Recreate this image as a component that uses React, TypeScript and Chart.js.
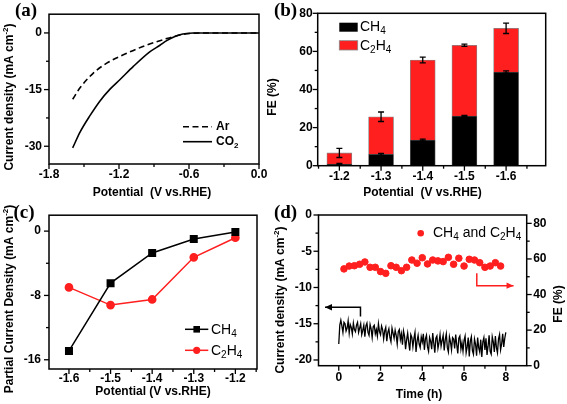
import React, { useEffect, useRef } from 'react';
import { Chart, registerables } from 'chart.js';
Chart.register(...registerables);

const FONT = "'Liberation Sans', Arial, Helvetica, sans-serif";
const SERIF = "'Liberation Serif', 'Times New Roman', serif";
const RED = '#ff1f1f';

// ---------- Panel (a): LSV ----------
const A_AR_V = [-1.597, -1.534, -1.42, -1.305, -1.134, -0.963, -0.791, -0.72, -0.649, -0.577, -0.506, -0.3, 0];
const A_AR_J = [-17.56, -14.53, -10.62, -8.01, -5.4, -3.21, -1.49, -0.86, -0.34, -0.1, 0, 0, 0];
const A_CO2_V = [-1.597, -1.534, -1.449, -1.363, -1.277, -1.191, -1.077, -0.934, -0.849, -0.791, -0.735, -0.677, -0.62, -0.563, -0.506, -0.3, 0];
const A_CO2_J = [-30.44, -26.27, -21.91, -18.0, -14.87, -12.34, -8.87, -4.96, -3.26, -2.04, -1.12, -0.47, -0.16, -0.03, 0, 0, 0];
const A_X_TICKS = [-1.8, -1.2, -0.6, 0];
const A_X_MINOR = [-1.5, -0.9, -0.3];
const A_Y_TICKS = [0, -15, -30];
const A_Y_MINOR = [-7.5, -22.5];

// ---------- Panel (b): FE bars ----------
const B_POT = [-1.2, -1.3, -1.4, -1.5, -1.6];
const B_CH4 = [0.9, 6.0, 13.5, 26.1, 49.2];
const B_C2H4 = [5.8, 19.7, 42.0, 37.1, 22.9];
const B_CH4_ERR = [0.3, 0.5, 0.5, 0.3, 0.6];
const B_TOTAL_ERR = [2.4, 2.5, 1.5, 0.6, 2.7];
const B_X_MINOR = [-1.15, -1.25, -1.35, -1.45, -1.55, -1.65];
const B_Y_TICKS = [0, 20, 40, 60, 80];
const B_Y_MINOR = [10, 30, 50, 70];

// ---------- Panel (c): partial current density ----------
const C_POT = [-1.6, -1.5, -1.4, -1.3, -1.2];
const C_CH4 = [-14.9, -6.47, -2.72, -0.99, -0.12];
const C_C2H4 = [-7.0, -9.2, -8.5, -3.26, -0.82];
const C_X_MINOR = [-1.55, -1.45, -1.35, -1.25, -1.15];
const C_Y_TICKS = [0, -8, -16];
const C_Y_MINOR = [-4, -12];

// ---------- Panel (d): stability ----------
const D_TIME = [
  0, 0.05, 0.1, 0.15, 0.2, 0.25, 0.3, 0.35, 0.4, 0.45, 0.5, 0.55, 0.6, 0.65, 0.7, 0.75, 0.8, 0.85, 0.9, 0.95,
  1, 1.05, 1.1, 1.15, 1.2, 1.25, 1.3, 1.35, 1.4, 1.45, 1.5, 1.55, 1.6, 1.65, 1.7, 1.75, 1.8, 1.85, 1.9, 1.95,
  2, 2.05, 2.1, 2.15, 2.2, 2.25, 2.3, 2.35, 2.4, 2.45, 2.5, 2.55, 2.6, 2.65, 2.7, 2.75, 2.8, 2.85, 2.9, 2.95,
  3, 3.05, 3.1, 3.15, 3.2, 3.25, 3.3, 3.35, 3.4, 3.45, 3.5, 3.55, 3.6, 3.65, 3.7, 3.75, 3.8, 3.85, 3.9, 3.95,
  4, 4.05, 4.1, 4.15, 4.2, 4.25, 4.3, 4.35, 4.4, 4.45, 4.5, 4.55, 4.6, 4.65, 4.7, 4.75, 4.8, 4.85, 4.9, 4.95,
  5, 5.05, 5.1, 5.15, 5.2, 5.25, 5.3, 5.35, 5.4, 5.45, 5.5, 5.55, 5.6, 5.65, 5.7, 5.75, 5.8, 5.85, 5.9, 5.95,
  6, 6.05, 6.1, 6.15, 6.2, 6.25, 6.3, 6.35, 6.4, 6.45, 6.5, 6.55, 6.6, 6.65, 6.7, 6.75, 6.8, 6.85, 6.9, 6.95,
  7, 7.05, 7.1, 7.15, 7.2, 7.25, 7.3, 7.35, 7.4, 7.45, 7.5, 7.55, 7.6, 7.65, 7.7, 7.75, 7.8, 7.85, 7.9, 7.95,
  8,
];
const D_J = [
  -17.8, -15.2, -14.5, -15.3, -16.2, -14.8, -15.0, -16.0, -15.6, -14.6, -16.3, -15.1, -15.5, -16.4, -14.9, -15.8, -16.1, -15.2, -14.8, -16.2,
  -15.6, -15.0, -16.5, -15.9, -15.2, -16.8, -15.3, -14.9, -16.2, -16.6, -15.1, -15.7, -16.9, -15.4, -15.2, -16.4, -15.8, -16.7, -15.0, -16.1,
  -16.5, -15.3, -15.8, -17.1, -16.0, -15.5, -17.4, -16.2, -15.7, -16.9, -17.5, -15.6, -16.3, -17.0, -15.9, -16.6, -17.8, -16.1, -15.8, -17.2,
  -16.4, -17.9, -16.0, -16.7, -18.5, -17.2, -16.3, -17.6, -18.7, -16.5, -16.9, -18.2, -17.0, -16.2, -18.9, -17.4, -16.6, -17.8, -18.3, -16.8,
  -17.5, -16.4, -18.6, -17.1, -16.6, -18.2, -18.8, -16.9, -17.4, -18.5, -16.3, -17.7, -19.0, -17.0, -16.7, -18.4, -17.6, -16.5, -18.1, -17.3,
  -16.6, -18.7, -17.2, -16.4, -18.3, -18.9, -16.8, -17.5, -18.6, -16.9, -17.1, -18.4, -16.5, -17.9, -19.1, -17.0, -16.7, -18.5, -17.6, -18.8,
  -17.3, -16.7, -19.0, -18.2, -16.9, -19.5, -17.4, -16.8, -18.7, -19.2, -17.1, -17.8, -19.4, -16.9, -18.3, -18.9, -17.2, -19.6, -17.5, -16.9,
  -18.6, -17.0, -19.3, -18.1, -16.6, -18.8, -19.2, -16.8, -17.5, -18.9, -16.7, -18.3, -19.0, -17.1, -16.5, -18.6, -17.8, -16.4, -18.2, -17.0,
  -16.2,
];
const D_FE_T = [0.25, 0.5, 0.75, 1, 1.25, 1.5, 1.75, 2, 2.25, 2.5, 2.75, 3, 3.25, 3.5, 3.75, 4, 4.25, 4.5, 4.75, 5, 5.25, 5.5, 5.75, 6, 6.25, 6.5, 6.75, 7, 7.25, 7.5, 7.75];
const D_FE = [54.4, 56.0, 56.2, 57.0, 58.3, 55.3, 55.3, 52.9, 51.9, 56.2, 55.3, 53.4, 55.3, 59.4, 57.6, 60.7, 57.2, 59.4, 58.9, 58.5, 60.9, 57.0, 60.4, 56.0, 59.8, 59.4, 57.9, 55.3, 56.0, 57.9, 56.0];
const D_X_TICKS = [0, 2, 4, 6, 8];
const D_X_MINOR = [1, 3, 5, 7];
const D_Y_TICKS = [0, -5, -10, -15, -20];
const D_Y_MINOR = [-2.5, -7.5, -12.5, -17.5];
const D_Y1_TICKS = [0, 20, 40, 60, 80];
const D_Y1_MINOR = [10, 30, 50, 70];
const D_ARROW_J_T = [1.04, 1.04, -0.66];
const D_ARROW_J_V = [-14.0, -12.73, -12.73];
const D_ARROW_FE_T = [6.61, 6.61, 8.37];
const D_ARROW_FE_V = [51.9, 45.0, 45.0];

// ---------- helpers ----------
type RichOpts = { size: number; bold?: boolean; family?: string; align?: 'left' | 'center' | 'right'; rot?: number; color?: string };

function drawRich(ctx: CanvasRenderingContext2D, str: string, x: number, y: number, o: RichOpts) {
  const parts = str.split(/(_\{[^}]*\}|\^\{[^}]*\})/).filter((p) => p.length);
  const segs = parts.map((p) =>
    p.startsWith('_{') ? { t: p.slice(2, -1), k: 'sub' } : p.startsWith('^{') ? { t: p.slice(2, -1), k: 'sup' } : { t: p, k: '' }
  );
  const fam = o.family || FONT;
  const wt = o.bold ? 'bold ' : '';
  const fontFor = (k: string) => `${wt}${k ? Math.round(o.size * 0.7) : o.size}px ${fam}`;
  ctx.save();
  let total = 0;
  const widths = segs.map((s) => {
    ctx.font = fontFor(s.k);
    const m = ctx.measureText(s.t).width;
    total += m;
    return m;
  });
  ctx.translate(x, y);
  if (o.rot) ctx.rotate(o.rot);
  let cx = o.align === 'left' ? 0 : o.align === 'right' ? -total : -total / 2;
  ctx.fillStyle = o.color || '#000';
  ctx.textBaseline = 'middle';
  ctx.textAlign = 'left';
  segs.forEach((s, i) => {
    ctx.font = fontFor(s.k);
    const dy = s.k === 'sub' ? o.size * 0.3 : s.k === 'sup' ? -o.size * 0.35 : 0;
    ctx.fillText(s.t, cx, dy);
    cx += widths[i];
  });
  ctx.restore();
}

type TickSpec = { scale: string; side: 'left' | 'right' | 'bottom'; majors: number[]; minors: number[] };
type TextSpec = { t: string; x: number; y: number } & RichOpts;

function decor(ox: number, oy: number, ticks: TickSpec[], texts: TextSpec[], extra?: (chart: any, ctx: CanvasRenderingContext2D) => void) {
  return {
    id: 'decor',
    afterDraw(chart: any) {
      const ctx: CanvasRenderingContext2D = chart.ctx;
      const a = chart.chartArea;
      ctx.save();
      if (extra) extra(chart, ctx);
      ctx.strokeStyle = '#000';
      ctx.lineWidth = 1.5;
      ctx.strokeRect(a.left, a.top, a.right - a.left, a.bottom - a.top);
      ctx.lineWidth = 1.3;
      ticks.forEach((t) => {
        const s = chart.scales[t.scale];
        const draw = (v: number, len: number) => {
          const p = s.getPixelForValue(v);
          ctx.beginPath();
          if (t.side === 'bottom') {
            ctx.moveTo(p, a.bottom);
            ctx.lineTo(p, a.bottom + len);
          } else if (t.side === 'left') {
            ctx.moveTo(a.left, p);
            ctx.lineTo(a.left - len, p);
          } else {
            ctx.moveTo(a.right, p);
            ctx.lineTo(a.right + len, p);
          }
          ctx.stroke();
        };
        t.majors.forEach((v) => draw(v, 5));
        t.minors.forEach((v) => draw(v, 3));
      });
      texts.forEach((tx) => drawRich(ctx, tx.t, tx.x - ox, tx.y - oy, tx));
      ctx.restore();
    },
  };
}

const tickFont = { family: FONT, size: 12, weight: 'bold' as const };

function linAxis(min: number, max: number, majors: number[], fmt: (v: number) => string, padding: number, fit: { w?: number; h?: number }) {
  return {
    type: 'linear' as const,
    min,
    max,
    offset: false,
    afterBuildTicks: (s: any) => {
      s.ticks = majors.map((v) => ({ value: v }));
    },
    ticks: { font: tickFont, color: '#000', padding, autoSkip: false, maxRotation: 0, minRotation: 0, callback: (v: any) => fmt(Number(v)) },
    grid: { display: false, drawTicks: false },
    border: { display: false },
    title: { display: false },
    afterFit: (s: any) => {
      if (fit.w !== undefined) s.width = fit.w;
      if (fit.h !== undefined) s.height = fit.h;
    },
  };
}

const zip = (xs: number[], ys: number[]) => xs.map((x, i) => ({ x, y: ys[i] }));
const f1 = (v: number) => v.toFixed(1);
const fi = (v: number) => String(v);

function arrow(ctx: CanvasRenderingContext2D, pts: number[][], color: string) {
  ctx.save();
  ctx.strokeStyle = color;
  ctx.fillStyle = color;
  ctx.lineWidth = 1.5;
  ctx.beginPath();
  ctx.moveTo(pts[0][0], pts[0][1]);
  for (let i = 1; i < pts.length; i++) ctx.lineTo(pts[i][0], pts[i][1]);
  ctx.stroke();
  const [x1, y1] = pts[pts.length - 2];
  const [x2, y2] = pts[pts.length - 1];
  const ang = Math.atan2(y2 - y1, x2 - x1);
  const L = 7, W = 3.2;
  ctx.beginPath();
  ctx.moveTo(x2, y2);
  ctx.lineTo(x2 - L * Math.cos(ang) + W * Math.sin(ang), y2 - L * Math.sin(ang) - W * Math.cos(ang));
  ctx.lineTo(x2 - L * Math.cos(ang) - W * Math.sin(ang), y2 - L * Math.sin(ang) + W * Math.cos(ang));
  ctx.closePath();
  ctx.fill();
  ctx.restore();
}

const baseOpts = (padding: any) => ({
  responsive: false,
  animation: false as const,
  events: [] as any[],
  layout: { padding },
  plugins: { legend: { display: false }, tooltip: { enabled: false } },
});

// ---------- chart builders ----------
const PANELS = [
  {
    left: 0, top: 0, width: 283, height: 202,
    make: () => ({
      type: 'line',
      data: {
        datasets: [
          { data: zip(A_AR_V, A_AR_J), borderColor: '#000', borderWidth: 1.6, borderDash: [6, 3.5], pointRadius: 0, cubicInterpolationMode: 'monotone', fill: false },
          { data: zip(A_CO2_V, A_CO2_J), borderColor: '#000', borderWidth: 1.6, pointRadius: 0, cubicInterpolationMode: 'monotone', fill: false },
        ],
      },
      options: {
        ...baseOpts({ left: 0, top: 12, right: 24, bottom: 0 }),
        scales: {
          x: linAxis(-1.8, 0, A_X_TICKS, f1, 3, { h: 38 }),
          y: linAxis(-34.7, 4.96, A_Y_TICKS, fi, 7, { w: 49 }),
        },
      },
      plugins: [
        decor(0, 0,
          [
            { scale: 'x', side: 'bottom', majors: A_X_TICKS, minors: A_X_MINOR },
            { scale: 'y', side: 'left', majors: A_Y_TICKS, minors: A_Y_MINOR },
          ],
          [
            { t: '(a)', x: 26, y: 11, size: 19, bold: true, family: SERIF },
            { t: 'Current density (mA cm^{-2})', x: 10, y: 97, size: 12, bold: true, rot: -Math.PI / 2 },
            { t: 'Potential  (V vs.RHE)', x: 152, y: 193, size: 12, bold: true },
            { t: 'Ar', x: 216, y: 127, size: 12, bold: true, align: 'left' },
            { t: 'CO_{2}', x: 216, y: 142, size: 12, bold: true, align: 'left' },
          ],
          (chart, ctx) => {
            ctx.save();
            ctx.strokeStyle = '#000';
            ctx.lineWidth = 1.6;
            ctx.setLineDash([6, 3.5]);
            ctx.beginPath(); ctx.moveTo(183, 126.7); ctx.lineTo(212, 126.7); ctx.stroke();
            ctx.setLineDash([]);
            ctx.beginPath(); ctx.moveTo(183, 141.7); ctx.lineTo(212, 141.7); ctx.stroke();
            ctx.restore();
          }
        ),
      ],
    }),
  },
  {
    left: 262, top: 0, width: 305, height: 202,
    make: () => ({
      type: 'bar',
      data: {
        datasets: [
          { data: zip(B_POT, B_CH4), backgroundColor: '#000', borderColor: '#555', borderWidth: 0.8, stack: 's', barThickness: 25 },
          { data: zip(B_POT, B_C2H4), backgroundColor: RED, borderColor: '#888', borderWidth: 0.8, stack: 's', barThickness: 25 },
        ],
      },
      options: {
        ...baseOpts({ left: 0, top: 13.3, right: 21.3, bottom: 0 }),
        scales: {
          x: { ...linAxis(-1.695, -1.148, B_POT, f1, 3.4, { h: 36.3 }), reverse: true },
          y: { ...linAxis(0, 80, B_Y_TICKS, fi, 5, { w: 55.7 }), stacked: true },
        },
      },
      plugins: [
        decor(262, 0,
          [
            { scale: 'x', side: 'bottom', majors: B_POT, minors: B_X_MINOR },
            { scale: 'y', side: 'left', majors: B_Y_TICKS, minors: B_Y_MINOR },
          ],
          [
            { t: '(b)', x: 285.5, y: 11, size: 19, bold: true, family: SERIF },
            { t: 'FE (%)', x: 273, y: 97, size: 12, bold: true, rot: -Math.PI / 2 },
            { t: 'Potential  (V vs.RHE)', x: 422.5, y: 193, size: 12, bold: true },
            { t: 'CH_{4}', x: 360, y: 27, size: 14, align: 'left' },
            { t: 'C_{2}H_{4}', x: 360, y: 46, size: 14, align: 'left' },
          ],
          (chart, ctx) => {
            const xs = chart.scales.x, ys = chart.scales.y;
            ctx.save();
            ctx.strokeStyle = '#000';
            ctx.lineWidth = 1.3;
            const eb = (px: number, v: number, e: number) => {
              const y1 = ys.getPixelForValue(v - e), y2 = ys.getPixelForValue(v + e);
              ctx.beginPath();
              ctx.moveTo(px, y1); ctx.lineTo(px, y2);
              ctx.moveTo(px - 3, y1); ctx.lineTo(px + 3, y1);
              ctx.moveTo(px - 3, y2); ctx.lineTo(px + 3, y2);
              ctx.stroke();
            };
            B_POT.forEach((p, i) => {
              const px = xs.getPixelForValue(p);
              eb(px, B_CH4[i] + B_C2H4[i], B_TOTAL_ERR[i]);
              eb(px, B_CH4[i], B_CH4_ERR[i]);
            });
            const ox = 262;
            ctx.fillStyle = '#000';
            ctx.fillRect(339.3 - ox, 22.7, 18.4, 9);
            ctx.fillStyle = RED;
            ctx.fillRect(339.3 - ox, 40.7, 18.4, 9.3);
            ctx.strokeStyle = '#888';
            ctx.lineWidth = 0.8;
            ctx.strokeRect(339.3 - ox, 40.7, 18.4, 9.3);
            ctx.restore();
          }
        ),
      ],
    }),
  },
  {
    left: 0, top: 200, width: 283, height: 204,
    make: () => ({
      type: 'line',
      data: {
        datasets: [
          { data: zip(C_POT, C_CH4), borderColor: '#000', backgroundColor: '#000', borderWidth: 1.5, pointStyle: 'rect', pointRadius: 4.6, tension: 0 },
          { data: zip(C_POT, C_C2H4), borderColor: RED, backgroundColor: RED, borderWidth: 1.5, pointStyle: 'circle', pointRadius: 3.6, tension: 0 },
        ],
      },
      options: {
        ...baseOpts({ left: 0, top: 14, right: 26, bottom: 0 }),
        scales: {
          x: linAxis(-1.648, -1.148, C_POT, f1, 2, { h: 35 }),
          y: linAxis(-17.15, 1.98, C_Y_TICKS, fi, 8, { w: 49 }),
        },
      },
      plugins: [
        decor(0, 200,
          [
            { scale: 'x', side: 'bottom', majors: C_POT, minors: C_X_MINOR },
            { scale: 'y', side: 'left', majors: C_Y_TICKS, minors: C_Y_MINOR },
          ],
          [
            { t: '(c)', x: 24, y: 213, size: 19, bold: true, family: SERIF },
            { t: 'Partial Current Density (mA cm^{-2})', x: 10, y: 299, size: 12, bold: true, rot: -Math.PI / 2 },
            { t: 'Potential (V vs.RHE)', x: 153, y: 392, size: 12, bold: true },
            { t: 'CH_{4}', x: 211, y: 330, size: 14, align: 'left' },
            { t: 'C_{2}H_{4}', x: 211, y: 351, size: 14, align: 'left' },
          ],
          (chart, ctx) => {
            const oy = 200;
            ctx.save();
            ctx.lineWidth = 1.5;
            ctx.strokeStyle = '#000';
            ctx.beginPath(); ctx.moveTo(185, 329.3 - oy); ctx.lineTo(208.3, 329.3 - oy); ctx.stroke();
            ctx.fillStyle = '#000';
            ctx.fillRect(196.7 - 3.3, 329.3 - oy - 3.3, 6.6, 6.6);
            ctx.strokeStyle = RED;
            ctx.beginPath(); ctx.moveTo(185, 350.3 - oy); ctx.lineTo(208.3, 350.3 - oy); ctx.stroke();
            ctx.fillStyle = RED;
            ctx.beginPath(); ctx.arc(196.7, 350.3 - oy, 3.6, 0, Math.PI * 2); ctx.fill();
            ctx.restore();
          }
        ),
      ],
    }),
  },
  {
    left: 270, top: 200, width: 297, height: 204,
    make: () => ({
      type: 'line',
      data: {
        datasets: [
          { type: 'line', data: zip(D_TIME, D_J), borderColor: '#000', borderWidth: 1.3, pointRadius: 0, tension: 0, yAxisID: 'y' },
          { type: 'scatter', data: zip(D_FE_T, D_FE), backgroundColor: RED, borderColor: RED, pointRadius: 3.3, showLine: false, yAxisID: 'y1' },
        ],
      },
      options: {
        ...baseOpts({ left: 0, top: 15, right: 0, bottom: 0 }),
        scales: {
          x: linAxis(-0.97, 9.0, D_X_TICKS, fi, 4.6, { h: 38.3 }),
          y: linAxis(-20.79, 0, D_Y_TICKS, fi, 6.5, { w: 48.5 }),
          y1: { ...linAxis(0, 84.7, D_Y1_TICKS, fi, 6.5, { w: 40.3 }), position: 'right' },
        },
      },
      plugins: [
        decor(270, 200,
          [
            { scale: 'x', side: 'bottom', majors: D_X_TICKS, minors: D_X_MINOR },
            { scale: 'y', side: 'left', majors: D_Y_TICKS, minors: D_Y_MINOR },
            { scale: 'y1', side: 'right', majors: D_Y1_TICKS, minors: D_Y1_MINOR },
          ],
          [
            { t: '(d)', x: 285.5, y: 213, size: 19, bold: true, family: SERIF },
            { t: 'Current density (mA cm^{-2})', x: 281, y: 300, size: 12, bold: true, rot: -Math.PI / 2 },
            { t: 'FE (%)', x: 559, y: 304, size: 12, bold: true, rot: -Math.PI / 2 },
            { t: 'Time (h)', x: 419, y: 395, size: 12, bold: true },
            { t: 'CH_{4} and C_{2}H_{4}', x: 433, y: 233, size: 14, align: 'left' },
          ],
          (chart, ctx) => {
            const xs = chart.scales.x, yl = chart.scales.y, yr = chart.scales.y1;
            arrow(ctx, D_ARROW_J_T.map((t, i) => [xs.getPixelForValue(t), yl.getPixelForValue(D_ARROW_J_V[i])]), '#000');
            arrow(ctx, D_ARROW_FE_T.map((t, i) => [xs.getPixelForValue(t), yr.getPixelForValue(D_ARROW_FE_V[i])]), RED);
            ctx.save();
            ctx.fillStyle = RED;
            ctx.beginPath(); ctx.arc(420.7 - 270, 233.3 - 200, 3.3, 0, Math.PI * 2); ctx.fill();
            ctx.restore();
          }
        ),
      ],
    }),
  },
];

function Panel({ spec }: { spec: (typeof PANELS)[number] }) {
  const ref = useRef<HTMLCanvasElement>(null);
  useEffect(() => {
    const chart = new Chart(ref.current as HTMLCanvasElement, spec.make() as any);
    return () => chart.destroy();
  }, []);
  return (
    <canvas
      ref={ref}
      width={spec.width}
      height={spec.height}
      style={{ position: 'absolute', left: spec.left, top: spec.top, width: spec.width, height: spec.height }}
    />
  );
}

export default function App() {
  return (
    <div style={{ position: 'fixed', left: 0, top: 0, width: 567, height: 404, background: '#fff', overflow: 'hidden' }}>
      {PANELS.map((p, i) => (
        <Panel key={i} spec={p} />
      ))}
    </div>
  );
}
